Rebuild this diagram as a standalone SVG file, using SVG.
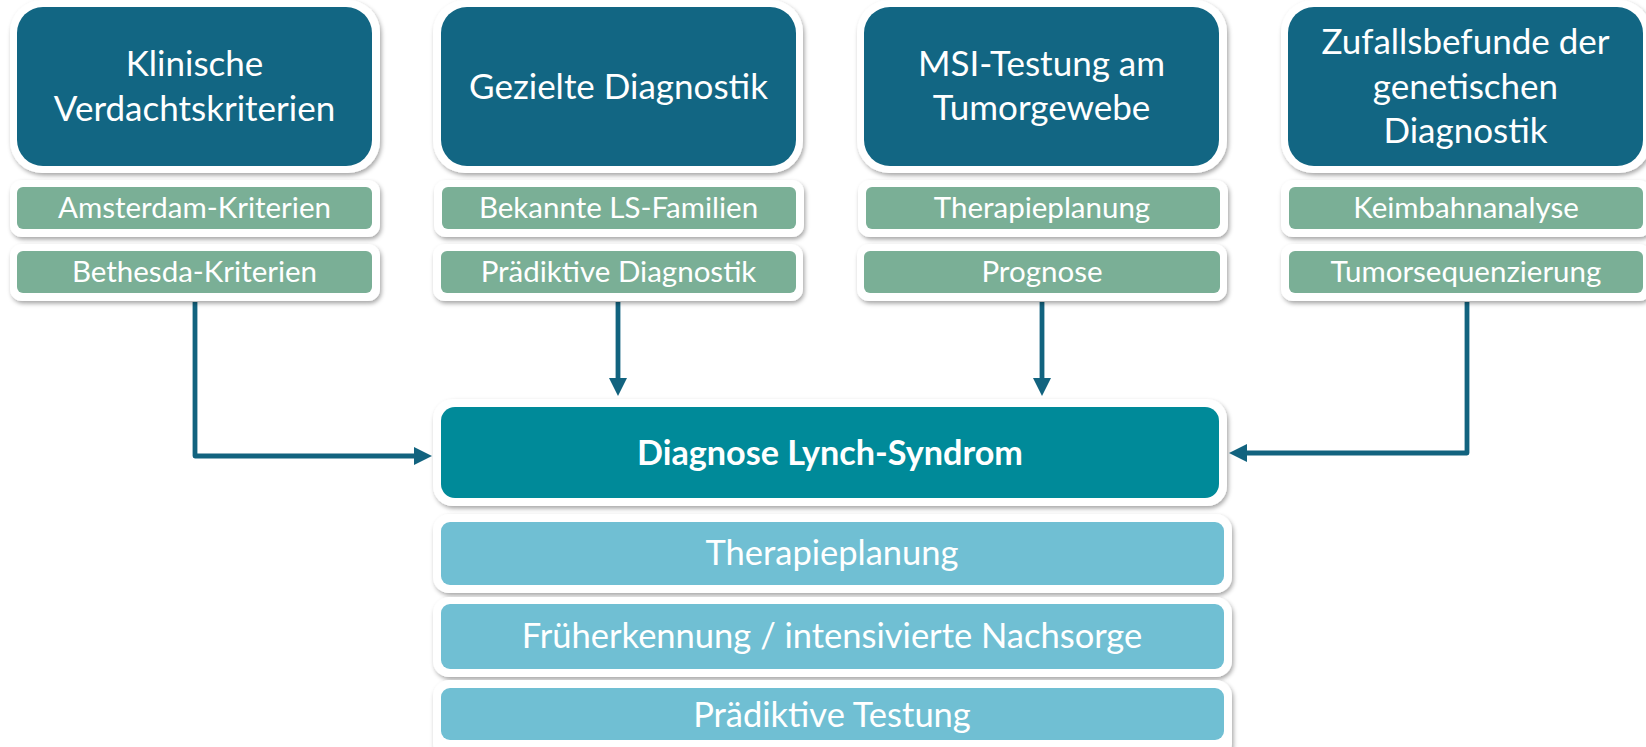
<svg xmlns="http://www.w3.org/2000/svg" width="1646" height="747" viewBox="0 0 1646 747">
<defs>
<filter id="sh" x="-5%" y="-10%" width="110%" height="130%">
<feDropShadow dx="1.5" dy="2.5" stdDeviation="2" flood-color="#000" flood-opacity="0.35"/>
</filter>
<marker id="ah" viewBox="0 0 18 18" markerWidth="18" markerHeight="18" markerUnits="userSpaceOnUse" refX="4" refY="9" orient="auto">
<path d="M0,0 L18,9 L0,18 z" fill="#12637f"/>
</marker>
<style>
.frame{fill:#fff;filter:url(#sh)}
.head{fill:#126683}
.sub{fill:#7aaf96}
.diag{fill:#008a99}
.out{fill:#70bfd3}
text{font-family:Lato,"Open Sans","Liberation Sans",sans-serif;fill:#fff;text-anchor:middle}
.t1{font-size:35px}
.t2{font-size:29.5px}
.t3{font-size:34.5px}
.tb{font-size:34.2px;font-weight:bold}
.con{fill:none;stroke:#12637f;stroke-width:4.8;stroke-linejoin:round;marker-end:url(#ah)}
</style>
</defs>
<rect width="1646" height="747" fill="#fff"/>

<g id="connectors">
<path class="con" d="M195 302 V456 H418"/>
<path class="con" d="M618 302 V382"/>
<path class="con" d="M1042 302 V382"/>
<path class="con" d="M1467 302 V453 H1243"/>
</g>

<g id="n-klinisch">
<rect class="frame" x="10" y="0" width="370" height="173" rx="32"/>
<rect class="head" x="17" y="7" width="355" height="159" rx="26"/>
<text class="t1" x="194.5" y="76">Klinische</text>
<text class="t1" x="194.5" y="121">Verdachtskriterien</text>
</g>
<g id="n-amsterdam">
<rect class="frame" x="10" y="180" width="370" height="57" rx="12"/>
<rect class="sub" x="17" y="187" width="355" height="42" rx="6"/>
<text class="t2" x="194.5" y="218">Amsterdam-Kriterien</text>
</g>
<g id="n-bethesda">
<rect class="frame" x="10" y="244" width="370" height="57" rx="12"/>
<rect class="sub" x="17" y="251" width="355" height="42" rx="6"/>
<text class="t2" x="194.5" y="282">Bethesda-Kriterien</text>
</g>

<g id="n-gezielt">
<rect class="frame" x="433" y="0" width="370" height="173" rx="32"/>
<rect class="head" x="441" y="7" width="355" height="159" rx="26"/>
<text class="t1" x="618.5" y="99">Gezielte Diagnostik</text>
</g>
<g id="n-bekannte">
<rect class="frame" x="434" y="180" width="370" height="57" rx="12"/>
<rect class="sub" x="442" y="187" width="354" height="42" rx="6"/>
<text class="t2" x="618.5" y="218">Bekannte LS-Familien</text>
</g>
<g id="n-praedikt-diag">
<rect class="frame" x="433" y="244" width="370" height="57" rx="12"/>
<rect class="sub" x="441" y="251" width="355" height="42" rx="6"/>
<text class="t2" x="618.5" y="282">Prädiktive Diagnostik</text>
</g>

<g id="n-msi">
<rect class="frame" x="857" y="0" width="370" height="173" rx="32"/>
<rect class="head" x="864" y="7" width="355" height="159" rx="26"/>
<text class="t1" x="1041.5" y="76">MSI-Testung am</text>
<text class="t1" x="1041.5" y="120">Tumorgewebe</text>
</g>
<g id="n-therapie-top">
<rect class="frame" x="858" y="180" width="370" height="57" rx="12"/>
<rect class="sub" x="866" y="187" width="354" height="42" rx="6"/>
<text class="t2" x="1042" y="218">Therapieplanung</text>
</g>
<g id="n-prognose">
<rect class="frame" x="857" y="244" width="370" height="57" rx="12"/>
<rect class="sub" x="864" y="251" width="356" height="42" rx="6"/>
<text class="t2" x="1042" y="282">Prognose</text>
</g>

<g id="n-zufall">
<rect class="frame" x="1281" y="0" width="370" height="173" rx="32"/>
<rect class="head" x="1288" y="7" width="355" height="159" rx="26"/>
<text class="t1" x="1465.5" y="54">Zufallsbefunde der</text>
<text class="t1" x="1465.5" y="99">genetischen</text>
<text class="t1" x="1465.5" y="143">Diagnostik</text>
</g>
<g id="n-keimbahn">
<rect class="frame" x="1281" y="180" width="370" height="57" rx="12"/>
<rect class="sub" x="1289" y="187" width="354" height="42" rx="6"/>
<text class="t2" x="1466" y="218">Keimbahnanalyse</text>
</g>
<g id="n-tumorseq">
<rect class="frame" x="1281" y="244" width="370" height="57" rx="12"/>
<rect class="sub" x="1289" y="251" width="354" height="42" rx="6"/>
<text class="t2" x="1466" y="282">Tumorsequenzierung</text>
</g>

<g id="n-diagnose">
<rect class="frame" x="433" y="399" width="794" height="107" rx="20"/>
<rect class="diag" x="441" y="407" width="778" height="91" rx="14"/>
<text class="tb" x="830" y="465">Diagnose Lynch-Syndrom</text>
</g>
<g id="n-therapie">
<rect class="frame" x="433" y="514" width="799" height="79" rx="16"/>
<rect class="out" x="441" y="522" width="783" height="63" rx="9"/>
<text class="t3" x="832" y="565">Therapieplanung</text>
</g>
<g id="n-frueh">
<rect class="frame" x="433" y="597" width="799" height="80" rx="16"/>
<rect class="out" x="441" y="604" width="783" height="65" rx="9"/>
<text class="t3" x="832" y="648">Früherkennung / intensivierte Nachsorge</text>
</g>
<g id="n-praedikt-test">
<rect class="frame" x="433" y="680" width="799" height="80" rx="16"/>
<rect class="out" x="441" y="688" width="783" height="52" rx="9"/>
<text class="t3" x="832" y="727">Prädiktive Testung</text>
</g>
</svg>
